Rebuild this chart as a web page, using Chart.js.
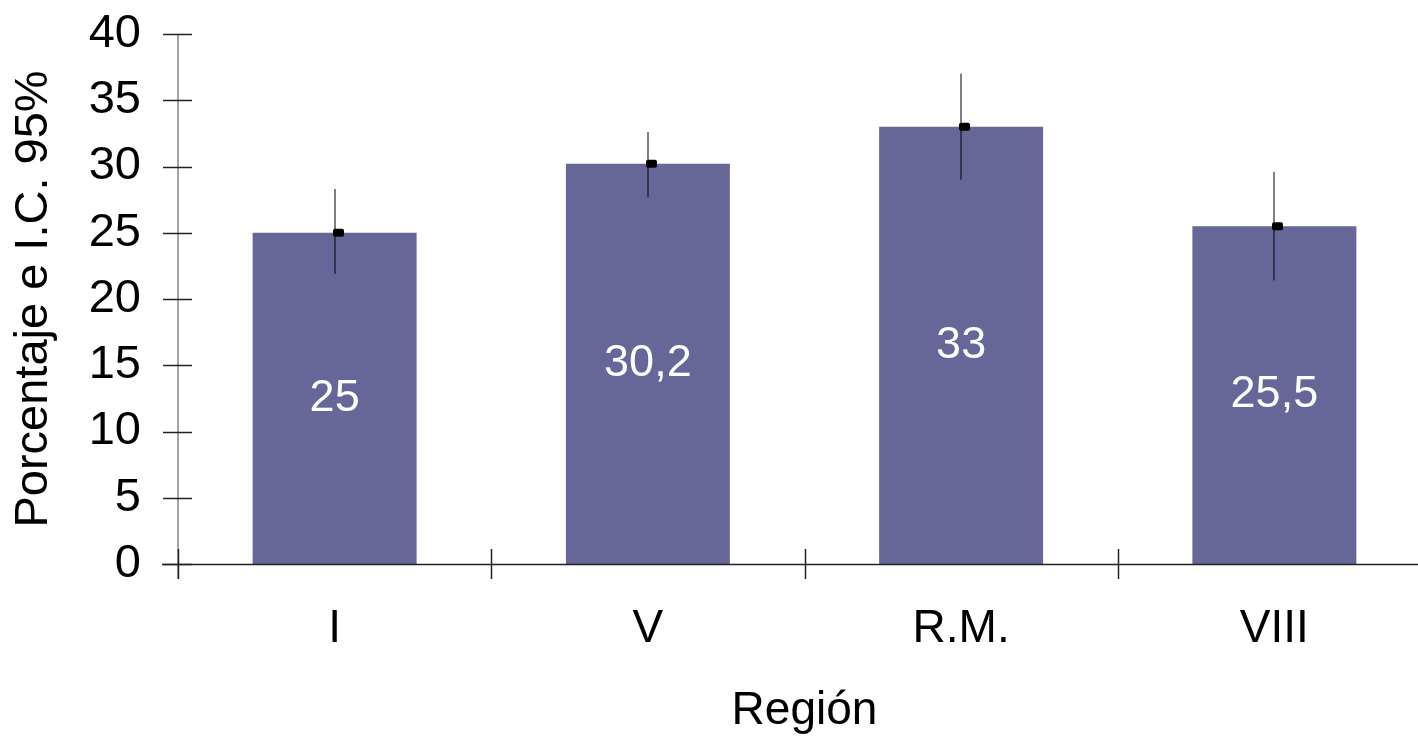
<!DOCTYPE html>
<html>
<head>
<meta charset="utf-8">
<script src="https://cdn.jsdelivr.net/npm/chart.js@4.4.1/dist/chart.umd.min.js"></script>
<style>
  html, body { margin: 0; padding: 0; background: #fff; overflow: hidden; }
  #wrap { width: 1440px; height: 739px; }
</style>
</head>
<body>
<div id="wrap"><canvas id="c" width="1440" height="739"></canvas></div>
<script>
const categories = ['I', 'V', 'R.M.', 'VIII'];
const values = [25, 30.2, 33, 25.5];
const ciLower = [21.9, 27.7, 29.0, 21.4];
const ciUpper = [28.3, 32.6, 37.0, 29.6];
const yMin = 0, yMax = 40, yStep = 5;
const yTitle = 'Porcentaje e I.C. 95%';
const xTitle = 'Región';

const FONT = "'Liberation Sans', Arial, sans-serif";

const overlay = {
  id: 'overlay',
  afterDatasetsDraw(chart) {
    const ctx = chart.ctx;
    const xs = chart.scales.x, ys = chart.scales.y;
    const meta = chart.getDatasetMeta(0);
    const area = chart.chartArea;
    ctx.save();
    // data labels
    ctx.fillStyle = '#ffffff';
    ctx.font = '45px ' + FONT;
    ctx.textAlign = 'center';
    ctx.textBaseline = 'middle';
    meta.data.forEach((bar, i) => {
      const cy = (bar.y + bar.base) / 2;
      ctx.fillText(String(values[i]).replace('.', ','), bar.x, cy);
    });
    // error bars
    meta.data.forEach((bar, i) => {
      const x = Math.round(bar.x);
      const yTop = ys.getPixelForValue(ciUpper[i]);
      const yBot = ys.getPixelForValue(ciLower[i]);
      ctx.strokeStyle = '#000';
      ctx.lineWidth = 1;
      ctx.beginPath();
      ctx.moveTo(x, yTop);
      ctx.lineTo(x, yBot);
      ctx.stroke();
      const yv = ys.getPixelForValue(values[i]);
      ctx.fillStyle = '#000';
      ctx.beginPath();
      if (ctx.roundRect) ctx.roundRect(x - 2, yv - 4, 11, 8, 2);
      else ctx.rect(x - 2, yv - 4, 11, 8);
      ctx.fill();
    });
    // axes
    const y0 = ys.getPixelForValue(0);
    const xLeft = area.left;
    ctx.strokeStyle = '#666';
    ctx.lineWidth = 1.2;
    ctx.beginPath();
    ctx.moveTo(xLeft, area.top);
    ctx.lineTo(xLeft, y0 + 15);
    ctx.stroke();
    ctx.strokeStyle = '#222';
    ctx.lineWidth = 1.5;
    for (let v = yMin; v <= yMax; v += yStep) {
      const py = Math.round(ys.getPixelForValue(v)) + 0.5;
      ctx.beginPath();
      ctx.moveTo(xLeft - 15, py);
      ctx.lineTo(xLeft + 14, py);
      ctx.stroke();
    }
    ctx.beginPath();
    ctx.moveTo(xLeft - 16, Math.round(y0) + 0.5);
    ctx.lineTo(chart.width, Math.round(y0) + 0.5);
    ctx.stroke();
    const catW = xs.getPixelForValue(1) - xs.getPixelForValue(0);
    for (let i = 0; i <= categories.length; i++) {
      const px = Math.round(xs.getPixelForValue(0) - catW / 2 + i * catW) + 0.5;
      ctx.beginPath();
      ctx.moveTo(px, y0 - 15);
      ctx.lineTo(px, y0 + 15);
      ctx.stroke();
    }
    ctx.restore();
  }
};

new Chart(document.getElementById('c'), {
  type: 'bar',
  data: {
    labels: categories,
    datasets: [{
      data: values,
      backgroundColor: '#666699',
      borderWidth: 0,
      barPercentage: 0.5235,
      categoryPercentage: 1
    }]
  },
  options: {
    responsive: false,
    animation: false,
    events: [],
    layout: { padding: { top: 34, right: 9, left: 0, bottom: 0 } },
    plugins: { legend: { display: false }, tooltip: { enabled: false } },
    scales: {
      x: {
        type: 'category',
        offset: true,
        grid: { display: false, drawTicks: false },
        border: { display: false },
        ticks: { color: '#000', font: { family: FONT, size: 46 }, padding: 38, maxRotation: 0, autoSkip: false },
        title: { display: true, text: xTitle, color: '#000', font: { family: FONT, size: 46 }, padding: { top: 0, bottom: 0 } },
        afterFit: s => { s.height = 175; s.paddingLeft = 0; s.paddingRight = 0; }
      },
      y: {
        min: yMin, max: yMax,
        grid: { display: false, drawTicks: false },
        border: { display: false },
        ticks: { stepSize: yStep, color: '#000', font: { family: FONT, size: 47 }, padding: 37 },
        title: { display: true, text: yTitle, color: '#000', font: { family: FONT, size: 47 }, padding: { top: 6, bottom: 0 } },
        afterFit: s => { s.width = 178; s.paddingTop = 0; s.paddingBottom = 0; }
      }
    }
  },
  plugins: [overlay]
});
</script>
</body>
</html>
